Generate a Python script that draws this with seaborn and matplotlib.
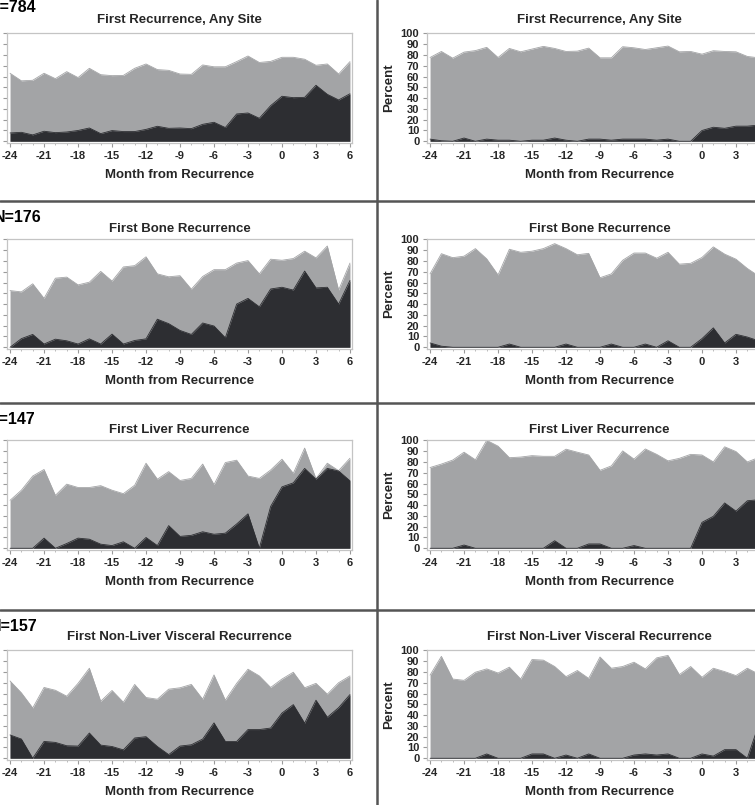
import numpy as np
import pandas as pd
import seaborn as sns
import matplotlib.pyplot as plt
from matplotlib.lines import Line2D
from matplotlib.ticker import MultipleLocator

# months relative to recurrence
months = list(range(-24, 7))

titles = ["First Recurrence, Any Site", "First Bone Recurrence",
          "First Liver Recurrence", "First Non-Liver Visceral Recurrence"]
n_labels = ["N=784", "N=176", "N=147", "N=157"]

# left column (upper edge of light area / dark area)
any_left_gray = [63, 56, 56.5, 63, 58, 64.5, 59, 67.6, 61.7, 60.8, 61, 67.6, 71.6, 66.4, 65.7, 62.3,
                 62, 70.7, 69, 69, 73.8, 79, 73, 74, 77.8, 77.8, 76, 70.4, 71.6, 62.3, 73.8]
any_left_dark = [7.7, 8.3, 5.9, 9.3, 8, 8.6, 10, 12.3, 7.1, 9.9, 9, 9, 11, 13.9, 12, 12.3,
                 11.7, 15.7, 17.6, 12.7, 25.3, 26.2, 21.3, 33, 41.7, 40.4, 40.7, 51.9, 43.5, 38.3, 44]
bone_left_gray = [52.5, 51.3, 58.8, 45.3, 64, 65, 57.8, 60.3, 70.3, 61.3, 74.4, 75.6, 83.8, 68, 65.3, 66.3,
                  53.8, 65.6, 71.9, 71.9, 78, 80.3, 68, 81.6, 80.6, 82.2, 89, 82.8, 93.8, 53, 78]
bone_left_dark = [0, 8, 11.9, 3, 7.5, 6, 3, 7.8, 3, 12.2, 3, 6.3, 7.8, 26, 21.9, 15.6,
                  11.9, 22.5, 19.7, 8.8, 40, 45.3, 37.5, 54, 55.6, 53, 70.6, 55, 55.6, 40, 61.9]
liver_left_gray = [44.4, 53.8, 66.9, 73, 49, 59.4, 56.3, 56.3, 58, 53.8, 50.6, 58.4, 78.8, 64, 71, 62.8,
                   64.7, 78, 59, 79.4, 81.6, 66.9, 64.7, 72.5, 82.5, 69.4, 92.8, 64.5, 78.8, 71.9, 83.4]
liver_left_dark = [0, 0, 0, 9.4, 0, 4.4, 9.4, 8.4, 3.8, 2.5, 6, 0, 10, 2.5, 21, 11,
                   12, 15.3, 13, 14, 22.5, 31.9, 0, 38.8, 56.9, 60.6, 74, 64, 74, 71.6, 62.5]
visc_left_gray = [71.6, 60.6, 46.6, 65.6, 63, 57.5, 69.4, 83.4, 52.8, 62.8, 51.9, 68.4, 56.3, 54.7, 64, 65.3,
                  68.4, 54.7, 77.2, 53.8, 69.4, 82.5, 76.3, 65.6, 73.4, 79.7, 65.3, 69.4, 59.4, 70, 76.3]
visc_left_dark = [21.6, 17.8, 0, 15.6, 14.7, 11.6, 11.3, 23.4, 12.2, 10.9, 7.8, 18.8, 20, 10.9, 3.4, 11.3,
                  12.5, 17.8, 32.8, 15.6, 15.6, 26.6, 26.6, 28, 41.9, 49.7, 32.5, 53.8, 38, 46.9, 59]

# right column, percent
any_pct_gray = [77.6, 83.2, 77, 82.6, 84, 87, 77.6, 86, 82.9, 85.4, 87.9, 86, 83.2, 83.5, 86.3, 77.3,
                77.3, 87.6, 86.6, 85, 86.6, 88.2, 82.9, 83.2, 80.7, 83.9, 83.2, 82.9, 78.6, 77.3, 75]
any_pct_dark = [2, 0.5, 0, 3, 0, 2, 1, 1, 0, 1, 1, 3, 1, 0, 2, 2,
                1, 2, 2, 2, 1, 2, 0, 0, 10, 13, 12, 14, 14, 15, 15]
bone_pct_gray = [68, 86.7, 83, 84.4, 91.4, 81.9, 67, 90.8, 88, 89, 91.4, 96, 91.4, 85.7, 87, 64.4,
                 68, 80.6, 87.3, 87.3, 82.5, 88, 77, 77.8, 83.2, 93, 86.3, 81.6, 73, 66, 60]
bone_pct_dark = [4, 1, 0, 0, 0, 0, 0, 3, 0, 0, 0, 0, 3, 0, 0, 0,
                 3, 0, 0, 3, 0, 6, 0, 0, 8, 18, 4, 12, 9.5, 6, 5]
liver_pct_gray = [74.8, 78, 81.7, 89, 82, 100, 94.6, 83.9, 84.5, 85.8, 85.2, 85.2, 91.8, 89, 86.4, 72.2,
                  76.3, 90.2, 82.6, 92, 87, 81, 83.3, 87, 86.4, 80, 94, 89.6, 80, 84, 80]
liver_pct_dark = [0, 0, 0, 3, 0, 0, 0, 0, 0, 0, 0, 7, 0, 0, 4, 4,
                  0, 0, 2.5, 0, 0, 0, 0, 0, 24, 29.6, 42, 34.4, 44, 45, 46]
visc_pct_gray = [77, 94.4, 73.4, 72.2, 79.7, 82.8, 79, 84.4, 73.4, 91.5, 90.9, 85, 75.6, 81.3, 74, 93.8,
                 83.4, 85, 89, 82.8, 93, 95.3, 77.5, 85, 75, 83.4, 80.3, 76.6, 83.4, 78, 75]
visc_pct_dark = [0, 0, 0, 0, 0, 4, 0, 0, 0, 4, 4, 0, 3, 0, 4, 0,
                 0, 0, 3, 4, 3, 4, 0, 0, 4, 2, 8, 8, 0, 31, 30]

left_gray = [any_left_gray, bone_left_gray, liver_left_gray, visc_left_gray]
left_dark = [any_left_dark, bone_left_dark, liver_left_dark, visc_left_dark]
right_gray = [any_pct_gray, bone_pct_gray, liver_pct_gray, visc_pct_gray]
right_dark = [any_pct_dark, bone_pct_dark, liver_pct_dark, visc_pct_dark]

LIGHT = '#a3a4a6'
DARK = '#2d2e32'
FRAME = '#c4c4c4'

sns.set_theme(style='white')
plt.rcParams['font.family'] = ['Liberation Sans', 'DejaVu Sans']
plt.rcParams['font.weight'] = 'bold'
plt.rcParams['axes.unicode_minus'] = False

W, H = 755, 805
fig = plt.figure(figsize=(W / 100, H / 100), dpi=100)
fig.patch.set_facecolor('white')


def px_axes(x0, y0, w, h):
    return fig.add_axes([x0 / W, 1 - (y0 + h) / H, w / W, h / H])


def draw_panel(ax, gray, dark, title, pad, percent):
    df = pd.DataFrame({'month': months, 'gray': gray, 'dark': dark})
    ax.fill_between(df['month'], 0, df['gray'], color=LIGHT, lw=0)
    ax.fill_between(df['month'], 0, df['dark'], color=DARK, lw=0)
    sns.lineplot(data=df, x='month', y='gray', ax=ax, color=LIGHT, lw=0.6)
    sns.lineplot(data=df, x='month', y='dark', ax=ax, color=DARK, lw=0.6)
    ax.set_xlim(-24.27, 6.18)
    ax.set_ylim(-1.6, 100.3)
    if percent:
        # right column is cropped before month 6
        ax.set_xticks(list(range(-24, 4, 3)))
    else:
        ax.xaxis.set_major_locator(MultipleLocator(3))
    ax.xaxis.set_minor_locator(MultipleLocator(1))
    ax.yaxis.set_major_locator(MultipleLocator(10))
    ax.tick_params(axis='both', which='major', direction='out', length=3, width=0.8,
                   color='#9a9a9a', labelsize=8, pad=2.5, bottom=True, left=True)
    ax.tick_params(axis='x', which='minor', direction='out', length=1.5, width=0.6,
                   color='#b0b0b0', bottom=True)
    # the left column's y labels sit outside the cropped picture
    ax.tick_params(axis='y', labelleft=percent)
    for lab in ax.get_xticklabels() + ax.get_yticklabels():
        lab.set_fontweight('bold')
    for sp in ax.spines.values():
        sp.set_color(FRAME)
        sp.set_linewidth(0.9)
    ax.set_title(title, fontsize=9.5, fontweight='bold', pad=pad)
    ax.set_xlabel('Month from Recurrence', fontsize=9.5, fontweight='bold', labelpad=6)
    ax.set_ylabel('Percent' if percent else '', fontsize=9.5, fontweight='bold', labelpad=4)


row_tops = [33, 239, 440, 650]
title_pads = [7.4, 5.3, 5.3, 7.2]
n_pos = [(36, 8), (42, 218), (36, 419), (38, 626)]

for i in range(4):
    axl = px_axes(7, row_tops[i], 345, 110)
    draw_panel(axl, left_gray[i], left_dark[i], titles[i], title_pads[i], False)
    axr = px_axes(427, row_tops[i], 345, 110)
    draw_panel(axr, right_gray[i], right_dark[i], titles[i], title_pads[i], True)
    fig.text(n_pos[i][0] / W, 1 - n_pos[i][1] / H, n_labels[i], ha='right', va='center',
             fontsize=11.5, fontweight='bold', color='black')

# panel separators
fig.add_artist(Line2D([377 / W, 377 / W], [0, 1], color='#555555', lw=1.8))
for yy in [201.5, 403, 609.5]:
    fig.add_artist(Line2D([0, 1], [1 - yy / H, 1 - yy / H], color='#555555', lw=1.8))

fig.savefig('out.png', dpi=100)
